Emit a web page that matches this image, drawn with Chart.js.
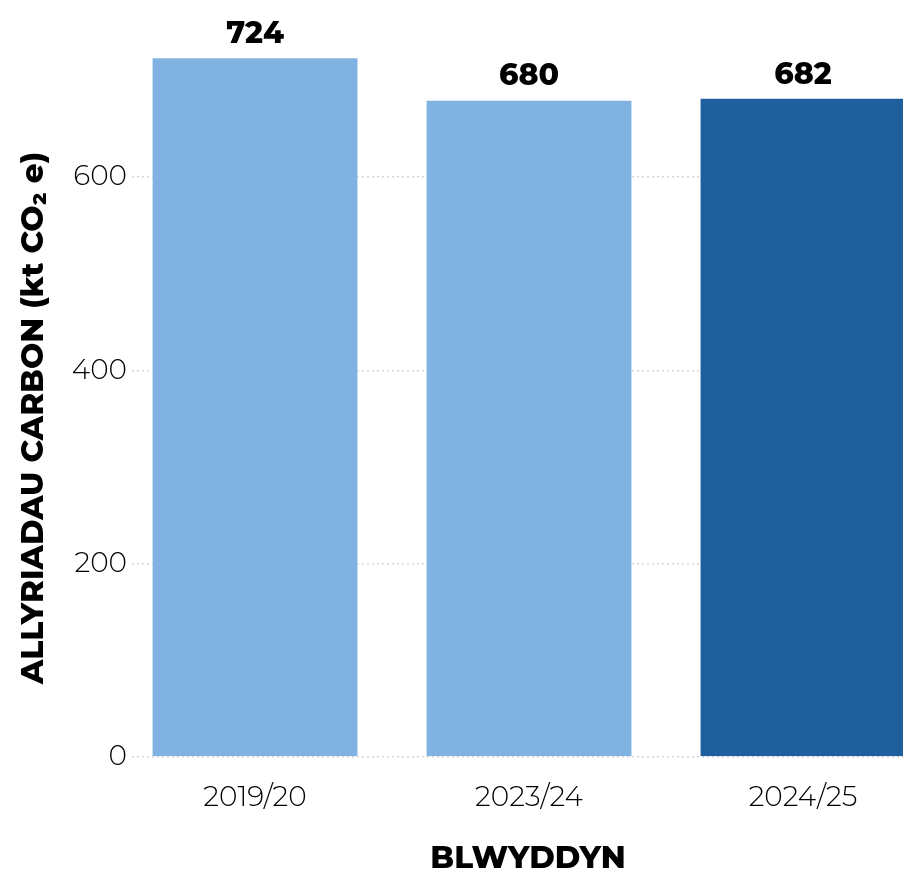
<!DOCTYPE html>
<html>
<head>
<meta charset="utf-8">
<script src="https://cdn.jsdelivr.net/npm/chart.js@4"></script>
<style>
  html, body { margin: 0; padding: 0; background: #fff; overflow: hidden; width: 903px; height: 874px; }
</style>
</head>
<body>
<canvas id="myChart" width="924" height="874"></canvas>
<script>
const years = ['2019/20', '2023/24', '2024/25'];
const emissions = [724, 680, 682];
const barColours = ['#80b3e1', '#80b3e1', '#1f5f9d'];
const yTicks = [0, 200, 400, 600];
const yTitle = 'ALLYRIADAU CARBON (kt CO₂ e)';

const FONT = "Montserrat, 'Open Sans', Lato, sans-serif";

const ctx = document.getElementById('myChart').getContext('2d');

// value labels above each bar + the rotated y title
const extraText = {
  id: 'extraText',
  afterDatasetsDraw(chart) {
    const c = chart.ctx;
    const meta = chart.getDatasetMeta(0);
    c.save();
    c.font = "800 30px " + FONT;
    c.fillStyle = '#000';
    c.textAlign = 'center';
    c.textBaseline = 'bottom';
    meta.data.forEach((bar, i) => {
      c.fillText(String(emissions[i]), bar.x, bar.y - 8);
    });
    c.restore();

    c.save();
    c.translate(34, 418);
    c.rotate(-Math.PI / 2);
    c.font = "800 31px " + FONT;
    c.fillStyle = '#000';
    c.textAlign = 'center';
    c.textBaseline = 'middle';
    c.fillText(yTitle, 0, 0);
    c.restore();
  }
};

const data = {
  datasets: [{
    data: emissions.map((v, i) => ({ x: i, y: v })),
    backgroundColor: barColours,
    borderColor: 'rgba(255,255,255,0.35)',
    borderWidth: 1,
    barPercentage: 0.755,
    categoryPercentage: 1,
    clip: false
  }]
};

const config = {
  type: 'bar',
  data: data,
  plugins: [extraText],
  options: {
    responsive: false,
    animation: false,
    layout: { padding: { top: 32, right: 0, bottom: 0, left: 0 } },
    plugins: {
      legend: { display: false },
      tooltip: { enabled: false }
    },
    scales: {
      x: {
        type: 'linear',
        min: -0.449,
        max: 2.4416,
        offset: false,
        afterFit: (s) => { s.height = 117; },
        afterBuildTicks: (s) => { s.ticks = years.map((_, i) => ({ value: i })); },
        grid: { display: false },
        border: { display: false },
        ticks: {
          padding: 16,
          color: '#000',
          font: { family: FONT, size: 28, weight: '300' },
          callback: (v) => years[v]
        },
        title: {
          display: true,
          text: 'BLWYDDYN',
          color: '#000',
          font: { family: FONT, size: 31, weight: '800' },
          padding: { top: 0, bottom: -3 }
        }
      },
      y: {
        min: 0,
        max: 750,
        afterFit: (s) => { s.width = 132; },
        afterBuildTicks: (s) => { s.ticks = yTicks.map(v => ({ value: v })); },
        // dotted grid lines
        border: { display: false, dash: [2, 3] },
        grid: {
          drawTicks: false,
          color: '#d6d6d6',
          lineWidth: 1.5
        },
        ticks: {
          padding: 5,
          color: '#000',
          font: { family: FONT, size: 28, weight: '300' }
        }
      }
    }
  }
};

const mychart = new Chart(ctx, config);
</script>
</body>
</html>
